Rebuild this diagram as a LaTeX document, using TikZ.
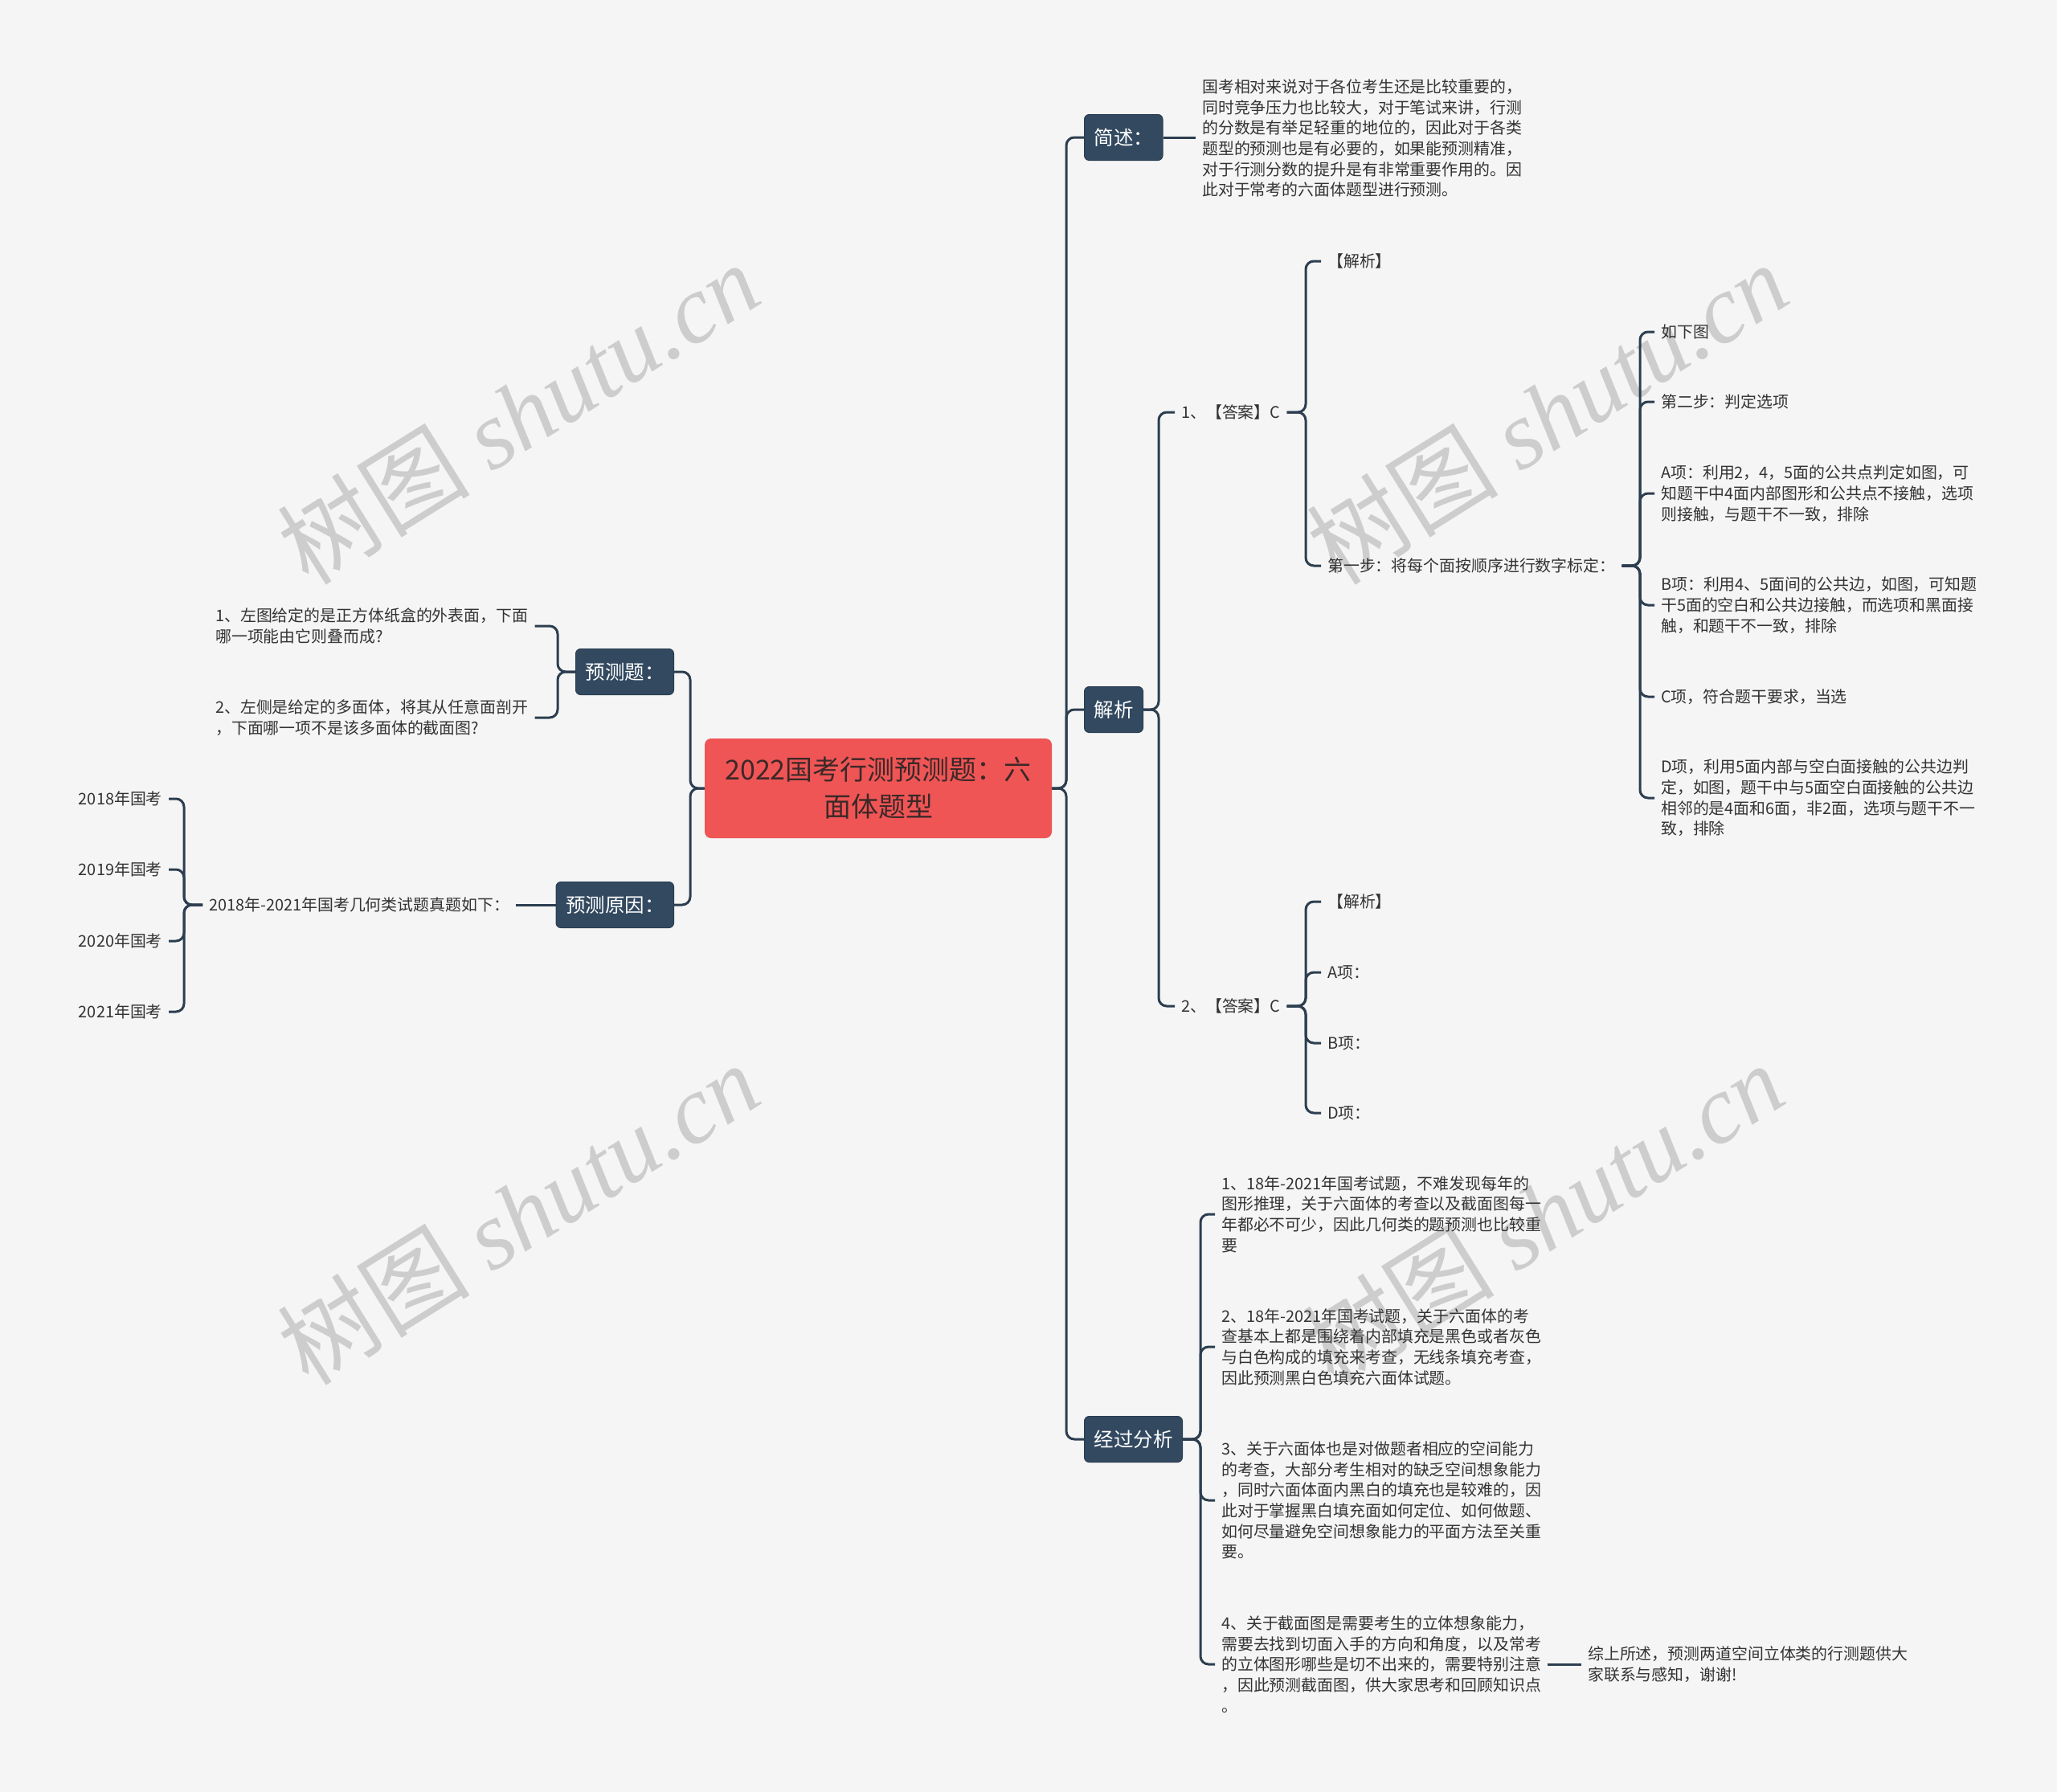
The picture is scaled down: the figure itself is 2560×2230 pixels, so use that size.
\documentclass[tikz,border=0pt]{standalone}
\usepackage{fontspec}
\setmainfont{Noto Sans CJK SC}
\newfontfamily\wmlatin{Liberation Serif}
\definecolor{bgc}{RGB}{245,245,245}
\definecolor{linec}{RGB}{44,62,80}
\definecolor{boxc}{RGB}{50,73,96}
\definecolor{rootc}{RGB}{239,85,85}
\definecolor{roottext}{RGB}{60,40,40}
\definecolor{txtc}{RGB}{51,51,51}
\definecolor{wmc}{RGB}{205,205,205}
\tikzset{
 conn/.style={draw=linec, line width=3pt, rounded corners=10pt},
 branch/.style={fill=boxc, draw=boxc!85!black, line width=1pt, rounded corners=6pt, text=white,
   font=\fontsize{24.5}{30}\selectfont, minimum height=57pt, inner xsep=12pt, inner ysep=0pt},
 leaf/.style={text=txtc, font=\fontsize{19.9}{25.7}\selectfont, align=left, inner xsep=8pt, inner ysep=2pt, anchor=west},
 leafr/.style={leaf, anchor=east},
 rootbox/.style={fill=rootc, rounded corners=8pt, minimum width=432pt, minimum height=124pt,
   align=center, text=roottext, font=\fontsize{34}{46}\selectfont},
 wm/.style={text=wmc, rotate=32, font=\fontsize{120}{130}\selectfont, inner sep=0pt}
}
\begin{document}
\begin{tikzpicture}[x=1pt,y=-1pt]
\fill[bgc] (0,0) rectangle (2560,2230);
\useasboundingbox (0,0) rectangle (2560,2230);
% watermarks
\node[wm] (wm1) at (645,514) {树图 {\wmlatin\itshape shutu.cn}};
\node[wm] (wm2) at (1925,514) {树图 {\wmlatin\itshape shutu.cn}};
\node[wm] (wm3) at (645,1510) {树图 {\wmlatin\itshape shutu.cn}};
\node[wm] (wm4) at (1920,1510) {树图 {\wmlatin\itshape shutu.cn}};
% trunks
\coordinate (tR) at (1327,0);
\coordinate (tJX) at (1442,0);
\coordinate (tA) at (1625,0);
\coordinate (tS) at (2041,0);
\coordinate (tJG) at (1494,0);
\coordinate (tL) at (859,0);
\coordinate (tQ) at (694,0);
\coordinate (tY) at (229,0);
% root
\node[rootbox] (root) at (1093,981) {2022国考行测预测题：六\\面体题型};
% branch boxes
\node[branch, anchor=west] (js) at (1349,171) {简述：};
\node[branch, anchor=west] (jx) at (1349,883) {解析};
\node[branch, anchor=west] (jg) at (1349,1791) {经过分析};
\node[branch, anchor=east] (yct) at (839,836) {预测题：};
\node[branch, anchor=east] (ycy) at (839,1126) {预测原因：};
% right leaves
\node[leaf] (jst) at (1488,172) {国考相对来说对于各位考生还是比较重要的，\\同时竞争压力也比较大，对于笔试来讲，行测\\的分数是有举足轻重的地位的，因此对于各类\\题型的预测也是有必要的，如果能预测精准，\\对于行测分数的提升是有非常重要作用的。因\\此对于常考的六面体题型进行预测。};
\node[leaf] (ans1) at (1462,513) {1、【答案】C};
\node[leaf] (a1jx) at (1644,325) {【解析】};
\node[leaf] (step1) at (1644,704) {第一步：将每个面按顺序进行数字标定：};
\node[leaf] (rxt) at (2059,413) {如下图};
\node[leaf] (st2) at (2059,500) {第二步：判定选项};
\node[leaf] (oA) at (2059,614) {A项：利用2，4，5面的公共点判定如图，可\\知题干中4面内部图形和公共点不接触，选项\\则接触，与题干不一致，排除};
\node[leaf] (oB) at (2059,753) {B项：利用4、5面间的公共边，如图，可知题\\干5面的空白和公共边接触，而选项和黑面接\\触，和题干不一致，排除};
\node[leaf] (oC) at (2059,867) {C项，符合题干要求，当选};
\node[leaf] (oD) at (2059,993) {D项，利用5面内部与空白面接触的公共边判\\定，如图，题干中与5面空白面接触的公共边\\相邻的是4面和6面，非2面，选项与题干不一\\致，排除};
\node[leaf] (ans2) at (1462,1252) {2、【答案】C};
\node[leaf] (b1) at (1644,1122) {【解析】};
\node[leaf] (b2) at (1644,1210) {A项：};
\node[leaf] (b3) at (1644,1298) {B项：};
\node[leaf] (b4) at (1644,1385) {D项：};
\node[leaf] (g1) at (1512,1511) {1、18年-2021年国考试题，不难发现每年的\\图形推理，关于六面体的考查以及截面图每一\\年都必不可少，因此几何类的题预测也比较重\\要};
\node[leaf] (g2) at (1512,1676) {2、18年-2021年国考试题，关于六面体的考\\查基本上都是围绕着内部填充是黑色或者灰色\\与白色构成的填充来考查，无线条填充考查，\\因此预测黑白色填充六面体试题。};
\node[leaf] (g3) at (1512,1867) {3、关于六面体也是对做题者相应的空间能力\\的考查，大部分考生相对的缺乏空间想象能力\\，同时六面体面内黑白的填充也是较难的，因\\此对于掌握黑白填充面如何定位、如何做题、\\如何尽量避免空间想象能力的平面方法至关重\\要。};
\node[leaf] (g4) at (1512,2071) {4、关于截面图是需要考生的立体想象能力，\\需要去找到切面入手的方向和角度，以及常考\\的立体图形哪些是切不出来的，需要特别注意\\，因此预测截面图，供大家思考和回顾知识点\\。};
\node[leaf] (sum) at (1968,2071) {综上所述，预测两道空间立体类的行测题供大\\家联系与感知，谢谢!};
% left leaves
\node[leaf] (q1) at (260,779) {1、左图给定的是正方体纸盒的外表面，下面\\哪一项能由它则叠而成?};
\node[leaf] (q2) at (260,893) {2、左侧是给定的多面体，将其从任意面剖开\\，下面哪一项不是该多面体的截面图?};
\node[leaf] (rsn) at (252,1126) {2018年-2021年国考几何类试题真题如下：};
\node[leafr] (y1) at (210,994) {2018年国考};
\node[leafr] (y2) at (210,1082) {2019年国考};
\node[leafr] (y3) at (210,1171) {2020年国考};
\node[leafr] (y4) at (210,1259) {2021年国考};
% connectors right
\foreach \c in {js,jx,jg}
  \draw[conn] (root.east) -- (root.east -| tR) |- (\c.west);
\draw[conn] (js.east) -- (jst.west |- js.east);
\foreach \c in {ans1,ans2}
  \draw[conn] (jx.east) -- (jx.east -| tJX) |- (\c.west);
\foreach \c in {a1jx,step1}
  \draw[conn] (ans1.east) -- (ans1.east -| tA) |- (\c.west);
\foreach \c in {rxt,st2,oA,oB,oC,oD}
  \draw[conn] (step1.east) -- (step1.east -| tS) |- (\c.west);
\foreach \c in {b1,b2,b3,b4}
  \draw[conn] (ans2.east) -- (ans2.east -| tA) |- (\c.west);
\foreach \c in {g1,g2,g3,g4}
  \draw[conn] (jg.east) -- (jg.east -| tJG) |- (\c.west);
\draw[conn] (g4.east) -- (sum.west);
% connectors left
\foreach \c in {yct,ycy}
  \draw[conn] (root.west) -- (root.west -| tL) |- (\c.east);
\foreach \c in {q1,q2}
  \draw[conn] (yct.west) -- (yct.west -| tQ) |- (\c.east);
\draw[conn] (ycy.west) -- (rsn.east);
\foreach \c in {y1,y2,y3,y4}
  \draw[conn] (rsn.west) -- (rsn.west -| tY) |- (\c.east);
\end{tikzpicture}
\end{document}
